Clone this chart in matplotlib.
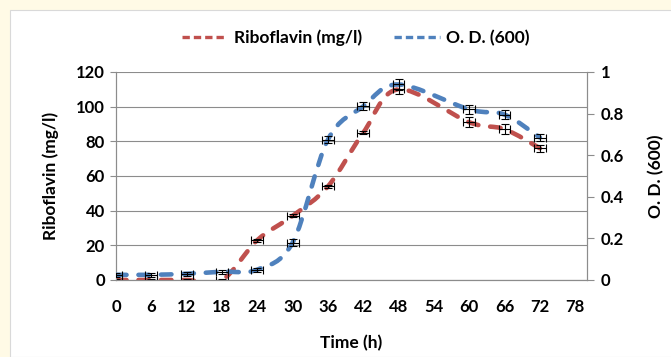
import numpy as np
import matplotlib.pyplot as plt
from matplotlib.path import Path
from matplotlib.patches import PathPatch, Rectangle
from matplotlib.lines import Line2D

plt.rcParams['font.family'] = ['Lato', 'DejaVu Sans']
plt.rcParams['font.weight'] = 'bold'

time_h = [0, 6, 12, 18, 24, 30, 36, 42, 48, 60, 66, 72]
riboflavin = [0, 0, 0, 0, 23, 37, 54, 85, 110, 91, 87, 76]
od600 = [0.025, 0.025, 0.03, 0.04, 0.05, 0.18, 0.675, 0.835, 0.94, 0.82, 0.795, 0.685]
ribo_err = [0.5, 0.5, 0.5, 0.5, 0.8, 0.8, 1, 1, 2.5, 3, 3, 2]
od_err = [0.01, 0.01, 0.01, 0.01, 0.01, 0.015, 0.015, 0.02, 0.025, 0.02, 0.02, 0.015]
time_err = 1.0

red = '#C0504D'
blue = '#4F81BD'
grid_grey = '#8C8C8C'


def smooth_path(x, y):
    # Bezier spline through the points (Excel-style smoothed line)
    pts = np.column_stack([x, y]).astype(float)
    n = len(pts)
    verts = [pts[0]]
    codes = [Path.MOVETO]
    for i in range(n - 1):
        p0 = pts[i - 1] if i > 0 else pts[i]
        p1 = pts[i]
        p2 = pts[i + 1]
        p3 = pts[i + 2] if i + 2 < n else pts[i + 1]
        verts += [p1 + (p2 - p0) / 6, p2 - (p3 - p1) / 6, p2]
        codes += [Path.CURVE4] * 3
    return Path(verts, codes)


fig = plt.figure(figsize=(6.71, 3.57), dpi=100, facecolor='#FFFAE6')
fig.add_artist(Rectangle((10 / 671, 0), 1, 1 - 10 / 357, transform=fig.transFigure,
                         facecolor='white', edgecolor='#D9D9D9', linewidth=0.8, zorder=-10))

ax = fig.add_axes([116 / 671, 1 - 280 / 357, (587 - 116) / 671, (280 - 72) / 357])
ax.set_facecolor('none')
ax2 = ax.twinx()

lw = 3.3
dash = (0, (2.3, 2.6))

ribo_line = PathPatch(smooth_path(time_h, riboflavin), fill=False, edgecolor=red,
                      linewidth=lw, linestyle=dash, capstyle='round', zorder=3)
ax.add_patch(ribo_line)
ax.errorbar(time_h, riboflavin, xerr=time_err, yerr=ribo_err, fmt='none',
            ecolor='black', elinewidth=0.8, capsize=3, capthick=0.8, zorder=4)

od_line = PathPatch(smooth_path(time_h, od600), fill=False, edgecolor=blue,
                    linewidth=lw, linestyle=dash, capstyle='round', zorder=3)
ax2.add_patch(od_line)
ax2.errorbar(time_h, od600, xerr=time_err, yerr=od_err, fmt='none',
             ecolor='black', elinewidth=0.8, capsize=3, capthick=0.8, zorder=4)

ax.set_xlim(0, 80)
ax.set_ylim(0, 120)
ax2.set_ylim(0, 1)
ax.set_xticks(np.arange(0, 79, 6))
ax.set_yticks(np.arange(0, 121, 20))
ax2.set_yticks([0, 0.2, 0.4, 0.6, 0.8, 1])
ax2.set_yticklabels(['0', '0.2', '0.4', '0.6', '0.8', '1'])

ax.yaxis.grid(True, color=grid_grey, linewidth=0.8)
ax.set_axisbelow(True)

for a in (ax, ax2):
    for side in a.spines:
        a.spines[side].set_color(grid_grey)
        a.spines[side].set_linewidth(0.8)
    a.spines['top'].set_visible(False)

ax.tick_params(axis='x', length=0, pad=14, labelsize=12)
ax.tick_params(axis='y', length=4, color=grid_grey, pad=4, labelsize=12)
ax2.tick_params(axis='y', length=5, color=grid_grey, pad=5, labelsize=12)

ax.set_xlabel('Time (h)', fontsize=12.5, fontweight='bold', labelpad=14)
ax.set_ylabel('Riboflavin (mg/l)', fontsize=12.5, fontweight='bold', labelpad=12)
ax2.set_ylabel('O. D. (600)', fontsize=12.5, fontweight='bold', labelpad=17)

handles = [Line2D([], [], color=red, linewidth=2.4, linestyle=(0, (2.2, 1.2))),
           Line2D([], [], color=blue, linewidth=2.4, linestyle=(0, (2.2, 1.2)))]
fig.legend(handles, ['Riboflavin (mg/l)', 'O. D. (600)'], loc='center',
           bbox_to_anchor=(356 / 671, 1 - 38 / 357), ncol=2, frameon=False,
           fontsize=12.5, handlelength=2.6, handletextpad=0.4, columnspacing=1.85)

fig.savefig('out.png', dpi=100, facecolor=fig.get_facecolor())
